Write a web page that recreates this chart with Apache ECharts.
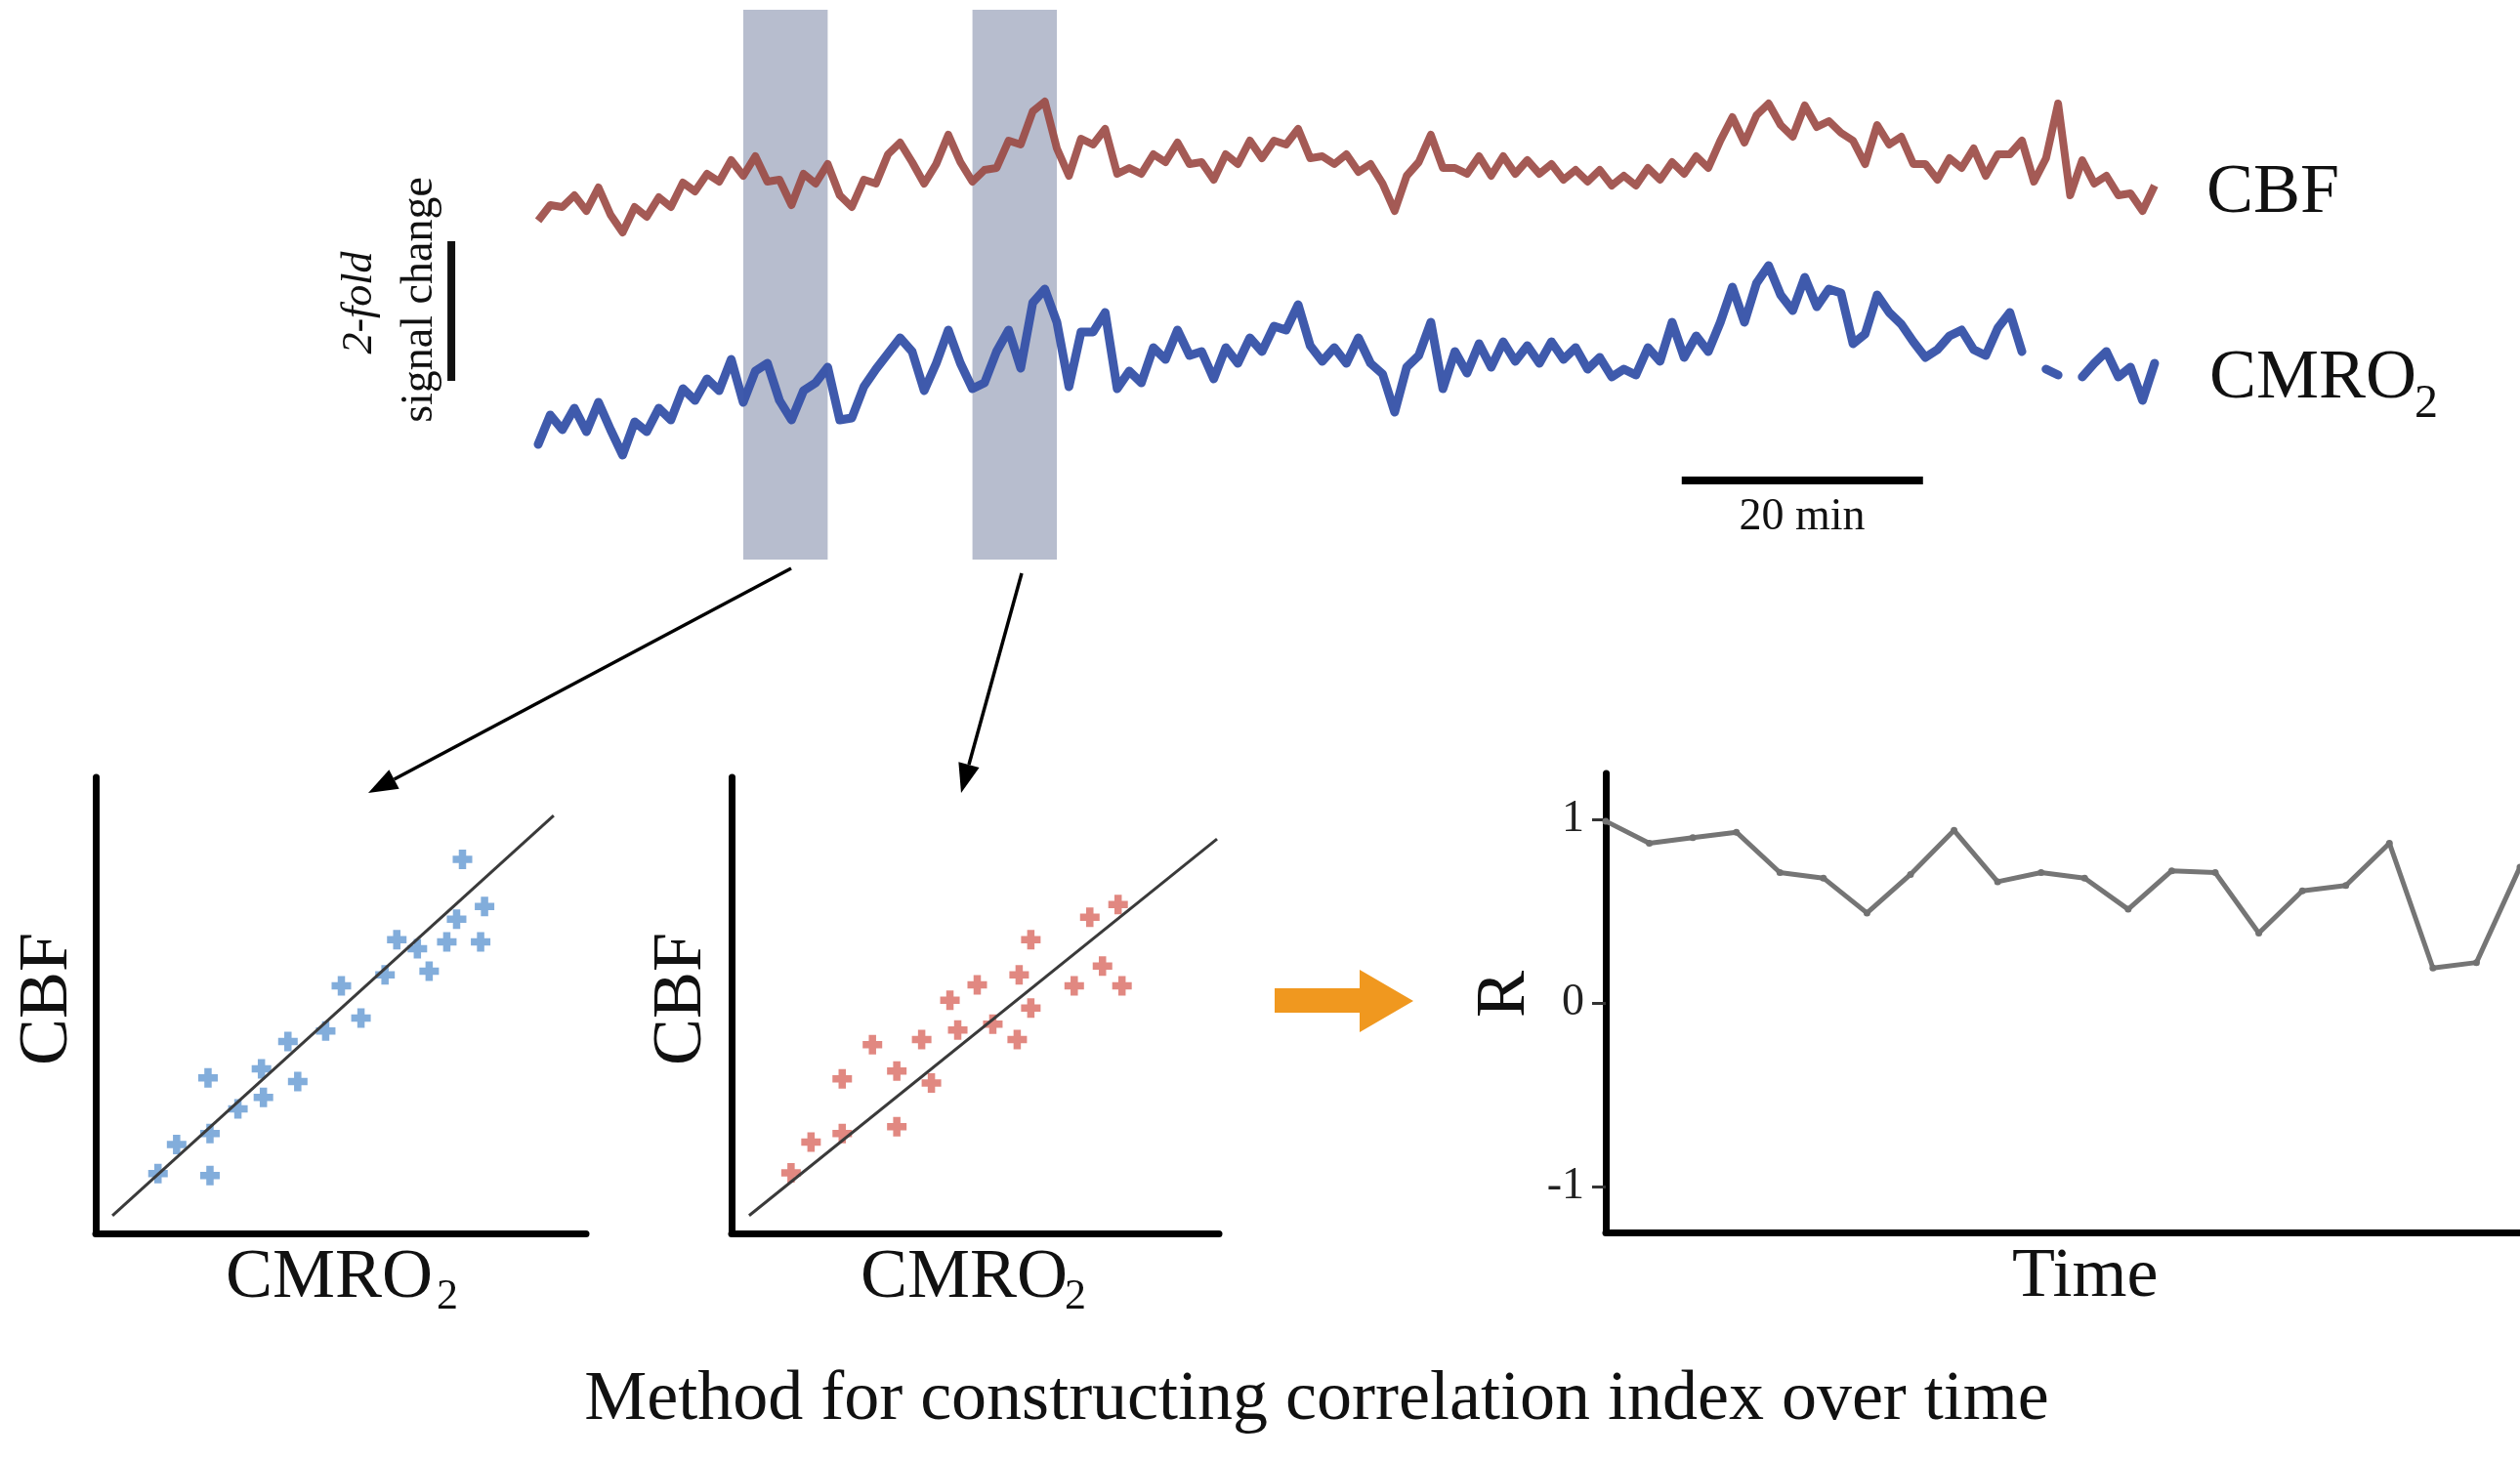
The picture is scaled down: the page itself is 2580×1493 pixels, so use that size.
<!DOCTYPE html>
<html>
<head>
<meta charset="utf-8">
<script src="https://cdn.jsdelivr.net/npm/echarts@6/dist/echarts.min.js"></script>
<style>
  html, body { margin: 0; padding: 0; background: #fff; }
  #chart { width: 2580px; height: 1493px; }
</style>
</head>
<body>
<div id="chart"></div>
<script>
/* 原始信号 (每分钟一个采样, 任意单位) */
const sampleStep = 1; // min
const cbfSignal = [
  34.7, 36.3, 36.1, 37.3, 35.7, 38.1, 35.3, 33.5, 36.1, 35.1,
  37.1, 36.1, 38.6, 37.7, 39.5, 38.7, 40.9, 39.3, 41.3, 38.7,
  38.9, 36.3, 39.5, 38.5, 40.5, 37.3, 36.1, 38.9, 38.5, 41.5,
  42.7, 40.7, 38.5, 40.5, 43.5, 40.7, 38.7, 39.9, 40.1, 42.9,
  42.5, 45.9, 46.9, 42.1, 39.3, 43.1, 42.5, 44.1, 39.5, 40.1,
  39.5, 41.5, 40.7, 42.7, 40.5, 40.7, 38.9, 41.5, 40.5, 42.9,
  41.1, 42.9, 42.5, 44.1, 41.1, 41.3, 40.5, 41.5, 39.7, 40.5,
  38.5, 35.7, 39.3, 40.7, 43.5, 40.1, 40.1, 39.5, 41.3, 39.3,
  41.3, 39.5, 40.9, 39.5, 40.5, 38.9, 39.9, 38.7, 39.9, 38.3,
  39.3, 38.3, 40.1, 38.9, 40.7, 39.5, 41.3, 40.1, 42.9, 45.3,
  42.7, 45.5, 46.7, 44.5, 43.3, 46.5, 44.3, 44.9, 43.7, 42.9,
  40.5, 44.5, 42.5, 43.3, 40.5, 40.5, 38.9, 41.1, 40.1, 42.1,
  39.3, 41.5, 41.5, 42.9, 38.7, 41.1, 46.7, 37.3, 40.9, 38.5,
  39.3, 37.3, 37.5, 35.7, 38.3
];
const cmro2Signal = [
  11.8, 14.8, 13.3, 15.5, 13.1, 16.1, 13.3, 10.7, 14.1, 13.1,
  15.5, 14.3, 17.5, 16.3, 18.5, 17.3, 20.5, 16.1, 19.3, 20.1,
  16.3, 14.3, 17.3, 18.1, 19.7, 14.3, 14.5, 17.7, 19.5, 21.1,
  22.7, 21.3, 17.3, 20.1, 23.5, 20.1, 17.5, 18.1, 21.3, 23.5,
  19.6, 26.3, 27.7, 24.3, 17.7, 23.3, 23.3, 25.3, 17.5, 19.3,
  18.1, 21.7, 20.5, 23.5, 20.9, 21.3, 18.5, 21.7, 20.1, 22.7,
  21.3, 23.9, 23.5, 26.1, 21.9, 20.3, 21.7, 20.1, 22.7, 20.1,
  19.0, 15.1, 19.7, 20.9, 24.3, 17.5, 21.3, 19.1, 22.1, 19.7,
  22.3, 20.3, 21.9, 20.1, 22.3, 20.5, 21.7, 19.5, 20.7, 18.7,
  19.5, 18.9, 21.7, 20.3, 24.3, 20.7, 22.9, 21.3, 24.3, 27.9,
  24.3, 28.3, 30.1, 27.1, 25.5, 28.9, 25.9, 27.7, 27.3, 22.1,
  23.1, 27.1, 25.3, 24.1, 22.3, 20.7, 21.5, 22.9, 23.5, 21.5,
  20.9, 23.7, 25.3, 21.3, null, 19.5, 18.9, null, 18.7, 20.1,
  21.3, 18.7, 19.7, 16.3, 20.1
];

/* 相关窗口 (min) */
const windowStarts = [17, 36];
const windowLength = 7;

/* 比例尺 */
const timeBar = [[94.8, 8.1], [114.8, 8.1]];      // 20 min
const foldBar = [[-7.2, 18.3], [-7.2, 32.6]];     // 2-fold

/* 散点: 窗口 1 (蓝) 和 窗口 2 (红), [CMRO2, CBF] */
const blueWindow = [
  [7.48, 8.20], [7.93, 7.17], [7.36, 6.89], [6.14, 6.44], [6.56, 6.24], [7.16, 6.39],
  [7.85, 6.39], [6.80, 5.75], [5.90, 5.67], [5.01, 5.43], [5.41, 4.72], [4.69, 4.44],
  [3.92, 4.21], [3.38, 3.61], [4.12, 3.33], [2.29, 3.41], [3.42, 2.98], [2.90, 2.73],
  [2.33, 2.19], [1.65, 1.95], [1.27, 1.31], [2.33, 1.27]
];
const redWindow = [
  [7.93, 7.21], [7.35, 6.93], [6.14, 6.44], [7.61, 5.86], [5.90, 5.67], [5.04, 5.45],
  [7.03, 5.43], [8.01, 5.43], [4.48, 5.11], [6.14, 4.94], [5.36, 4.59], [4.64, 4.46],
  [2.89, 4.14], [3.90, 4.25], [5.86, 4.25], [3.39, 3.56], [2.27, 3.39], [4.10, 3.30],
  [3.39, 2.34], [2.27, 2.19], [1.63, 2.00], [1.22, 1.33]
];
const blueFit = [[0.34, 0.39], [9.34, 9.16]];
const redFit = [[0.36, 0.39], [9.96, 8.65]];

/* 相关系数随时间 */
const rValues = [0.99, 0.87, 0.90, 0.93, 0.71, 0.68, 0.49, 0.70, 0.94, 0.66, 0.71,
                 0.68, 0.51, 0.72, 0.71, 0.38, 0.61, 0.64, 0.87, 0.19, 0.22, 0.74];
const rTicks = [-1, 0, 1];

const SERIF = '"Liberation Serif", "DejaVu Serif", serif';
const plus = 'path://M2.5,0h3v2.5h2.5v3h-2.5v2.5h-3v-2.5h-2.5v-3h2.5z';

const toPairs = arr => arr.map((v, i) => [i * sampleStep, v]);

function hiddenAxis(idx, min, max) {
    return { gridIndex: idx, type: 'value', min: min, max: max, show: false };
}
function bareAxis(idx, min, max) {
    return {
        gridIndex: idx, type: 'value', min: min, max: max,
        axisLine: { show: true, onZero: false, lineStyle: { color: '#000', width: 7 } },
        axisTick: { show: false }, axisLabel: { show: false }, splitLine: { show: false }
    };
}

/* 箭头 */
function arrow(x1, y1, x2, y2, color) {
    const a = Math.atan2(y2 - y1, x2 - x1);
    const L = 30, W = 11;
    const bx = x2 - L * Math.cos(a), by = y2 - L * Math.sin(a);
    const px = -Math.sin(a) * W, py = Math.cos(a) * W;
    return [
        { type: 'line', shape: { x1: x1, y1: y1, x2: bx, y2: by },
          style: { stroke: color, lineWidth: 3.5 } },
        { type: 'polygon', shape: { points: [[x2, y2], [bx + px, by + py], [bx - px, by - py]] },
          style: { fill: color } }
    ];
}

function label(text, x, y, size, opts) {
    opts = opts || {};
    return {
        type: 'text', x: x, y: y, rotation: opts.rotation || 0,
        style: {
            text: text, fill: '#111', fontSize: size, fontFamily: SERIF,
            fontStyle: opts.italic ? 'italic' : 'normal',
            align: opts.align || 'center', verticalAlign: 'middle'
        }
    };
}

var chart = echarts.init(document.getElementById('chart'));
var option = {
    backgroundColor: '#fff',
    animation: false,
    grid: [
        { left: 427.5, top: 10, width: 1778.4, height: 563 },
        { left: 98, top: 796, width: 502, height: 467 },
        { left: 749, top: 796, width: 499, height: 467 },
        { left: 1644, top: 792, width: 950, height: 470 }
    ],
    xAxis: [
        hiddenAxis(0, -10, 134),
        bareAxis(1, 0, 10),
        bareAxis(2, 0, 10),
        bareAxis(3, 0, 21)
    ],
    yAxis: [
        hiddenAxis(0, 0, 56.3),
        bareAxis(1, 0, 10),
        bareAxis(2, 0, 10),
        {
            gridIndex: 3, type: 'value', min: -1.25, max: 1.25,
            axisLine: { show: true, onZero: false, lineStyle: { color: '#000', width: 7 } },
            axisTick: { show: true, length: 14, customValues: rTicks,
                        lineStyle: { color: '#333', width: 3 } },
            axisLabel: { show: true, customValues: rTicks, margin: 22,
                         fontFamily: SERIF, fontSize: 46, color: '#222' },
            splitLine: { show: false }
        }
    ],
    series: [
        {
            type: 'line', xAxisIndex: 0, yAxisIndex: 0, z: 1,
            data: timeBar, symbol: 'none', clip: false,
            lineStyle: { color: '#000', width: 8 },
            markArea: {
                silent: true,
                itemStyle: { color: '#b7bdce' },
                data: windowStarts.map(s => [{ xAxis: s }, { xAxis: s + windowLength }])
            }
        },
        {
            type: 'line', xAxisIndex: 0, yAxisIndex: 0, z: 1,
            data: foldBar, symbol: 'none', clip: false,
            lineStyle: { color: '#111', width: 8 }
        },
        {
            name: 'CBF', type: 'line', xAxisIndex: 0, yAxisIndex: 0, z: 3,
            data: toPairs(cbfSignal), symbol: 'none',
            lineStyle: { color: '#9a4843', width: 8, opacity: 0.9, join: 'round' }
        },
        {
            name: 'CMRO2', type: 'line', xAxisIndex: 0, yAxisIndex: 0, z: 3,
            data: toPairs(cmro2Signal), symbol: 'none', connectNulls: false,
            lineStyle: { color: '#3551a8', width: 9, opacity: 0.95, cap: 'round', join: 'round' }
        },
        {
            type: 'line', xAxisIndex: 1, yAxisIndex: 1, data: blueFit, symbol: 'none',
            lineStyle: { color: '#3a3a3a', width: 3 }
        },
        {
            type: 'scatter', xAxisIndex: 1, yAxisIndex: 1, data: blueWindow,
            symbol: plus, symbolSize: 20, itemStyle: { color: '#6399d2' }
        },
        {
            type: 'line', xAxisIndex: 2, yAxisIndex: 2, data: redFit, symbol: 'none',
            lineStyle: { color: '#3a3a3a', width: 3 }
        },
        {
            type: 'scatter', xAxisIndex: 2, yAxisIndex: 2, data: redWindow,
            symbol: plus, symbolSize: 20, itemStyle: { color: '#da6a62' }
        },
        {
            name: 'R', type: 'line', xAxisIndex: 3, yAxisIndex: 3,
            data: rValues.map((v, i) => [i, v]),
            symbol: 'circle', symbolSize: 7, clip: false,
            itemStyle: { color: '#727272' },
            lineStyle: { color: '#757575', width: 5 }
        }
    ],
    graphic: [].concat(
        label('CBF', 2259, 198, 72, { align: 'left' }),
        label('CMRO', 2262, 388, 72, { align: 'left' }),
        label('2', 2472, 414, 48, { align: 'left' }),
        label('20 min', 1845, 530, 46),
        label('2-fold', 368, 310, 44, { rotation: Math.PI / 2, italic: true }),
        label('signal change', 430, 307, 46, { rotation: Math.PI / 2 }),
        arrow(810, 582, 377, 812, '#000'),
        arrow(1046, 587, 984, 812, '#000'),
        label('CBF', 49, 1023, 72, { rotation: Math.PI / 2 }),
        label('CBF', 698, 1023, 72, { rotation: Math.PI / 2 }),
        label('CMRO', 231, 1309, 72, { align: 'left' }),
        label('2', 447, 1328, 44, { align: 'left' }),
        label('CMRO', 881, 1309, 72, { align: 'left' }),
        label('2', 1090, 1328, 44, { align: 'left' }),
        [{
            type: 'polygon',
            shape: { points: [[1305, 1012], [1392, 1012], [1392, 993], [1447, 1025],
                              [1392, 1057], [1392, 1037], [1305, 1037]] },
            style: { fill: '#f0981f' }
        }],
        label('R', 1541, 1018, 72, { rotation: Math.PI / 2 }),
        label('Time', 2060, 1308, 72, { align: 'left' }),
        label('Method for constructing correlation index over time', 1348, 1434, 72)
    )
};
chart.setOption(option);

window.addEventListener('resize', function () {
    chart.resize();
});
</script>
</body>
</html>
